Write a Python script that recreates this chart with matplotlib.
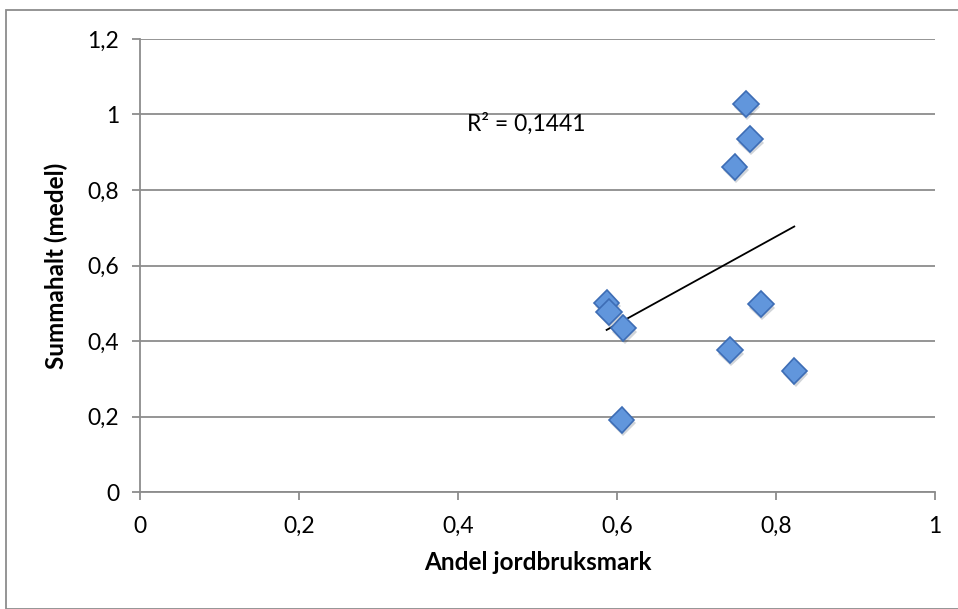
import numpy as np
import matplotlib.pyplot as plt
import matplotlib.patheffects as pe
from matplotlib.patches import Rectangle
from matplotlib.ticker import FuncFormatter

# andel jordbruksmark vs summahalt (medel)
andel = [0.587, 0.590, 0.608, 0.606, 0.742, 0.781, 0.823, 0.762, 0.767, 0.748]
summahalt = [0.501, 0.477, 0.434, 0.191, 0.376, 0.498, 0.321, 1.028, 0.935, 0.861]
r2_text = "R² = 0,1441"

plt.rcParams['font.family'] = ['Lato', 'DejaVu Sans']

fig = plt.figure(figsize=(9.58, 6.09), dpi=100)
ax = fig.add_axes([0.146, 0.192, 0.830, 0.744])

# chart area border
fig.patches.append(Rectangle((6 / 958, 0), 1.0, 1 - 10 / 609, transform=fig.transFigure,
                             fill=False, edgecolor='#8c8c8c', linewidth=1.3))

grid_col = '#8c8c8c'
ax.set_xlim(0, 1)
ax.set_ylim(0, 1.2)
ax.set_xticks(np.arange(0, 1.01, 0.2))
ax.set_yticks(np.arange(0, 1.21, 0.2))
comma = FuncFormatter(lambda v, p: ('%g' % round(v, 2)).replace('.', ','))
ax.xaxis.set_major_formatter(comma)
ax.yaxis.set_major_formatter(comma)
ax.grid(axis='y', color=grid_col, linewidth=1.3)
ax.set_axisbelow(True)
for s in ['top', 'right']:
    ax.spines[s].set_visible(False)
for s in ['left', 'bottom']:
    ax.spines[s].set_color(grid_col)
    ax.spines[s].set_linewidth(1.3)
ax.tick_params(direction='out', length=6, width=1.3, color=grid_col,
               labelsize=16.5)
ax.tick_params(axis='x', pad=11)
ax.tick_params(axis='y', pad=9)

# linear trend line over the data range
k, m = np.polyfit(andel, summahalt, 1)
xs = np.array([min(andel), max(andel)])
ax.plot(xs, k * xs + m, color='black', linewidth=1.3, zorder=2)

ax.plot(andel, summahalt, linestyle='none', marker='D', markersize=13,
        markerfacecolor='#6196dc', markeredgecolor='#3d6db5', markeredgewidth=1.2,
        zorder=3,
        path_effects=[pe.SimplePatchShadow(offset=(1, -2.5), alpha=0.2),
                      pe.Normal()])

ax.text(0.412, 0.975, r2_text, fontsize=16.5, ha='left', va='center')

ax.set_xlabel("Andel jordbruksmark", fontsize=17.5, fontweight='bold', labelpad=10)
ax.set_ylabel("Summahalt (medel)", fontsize=17.5, fontweight='bold', labelpad=14)

fig.savefig("out.png", dpi=100)
